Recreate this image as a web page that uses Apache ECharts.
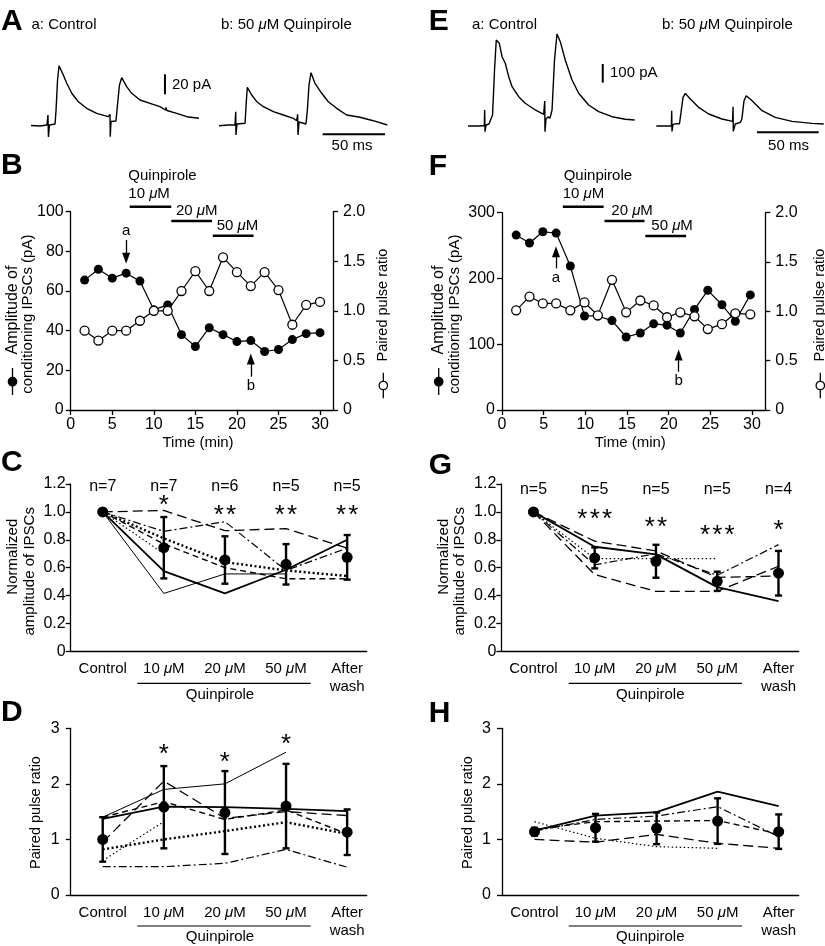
<!DOCTYPE html>
<html>
<head>
<meta charset="utf-8">
<script src="https://cdn.jsdelivr.net/npm/echarts@6/dist/echarts.min.js"></script>
<style>
html, body { margin: 0; padding: 0; background: #fff; }
#main { width: 825px; height: 946px; }
</style>
</head>
<body>
<div id="main"></div>
<script>
var FONT = '"Liberation Sans", Arial, Helvetica, sans-serif';

// A / E: example IPSC traces, [ms, pA]
var traceACtrl = [[0,0],[7.2,-0.5],[12.8,0.5],[13.6,10.5],[14.0,-11.5],[14.8,0.5],[19.3,1.5],[20.1,15.5],[21.3,45.5],[22.5,59.8],[24.1,55.5],[25.9,50.5],[28.7,42.2],[32.7,32.2],[38.0,23.8],[44.7,17.2],[52.7,12.2],[62.0,8.8],[63.0,8.5],[63.4,11.2],[63.6,-11.2],[64.2,4],[68.2,4.5],[69.4,20.5],[71.0,40.5],[72.8,47.8],[76.8,38.8],[80.8,32.2],[87.5,25.5],[95.5,22.2],[103.5,18.8],[107.9,15.5],[108.3,18],[109.1,15],[116.9,12.2],[125.0,8.8],[134.8,7.2]];
var traceAQuin = [[0,-0.2],[7.2,0.5],[12.8,0.5],[13.4,13.8],[13.6,-9.5],[14.4,1.5],[20.9,2.2],[21.7,20.5],[22.7,38.2],[26.2,30.5],[30.3,23.8],[35.6,18.8],[43.6,13.8],[51.6,10.5],[59.6,7.2],[62.3,4.8],[63.1,11.2],[63.4,-9.5],[64.2,3.5],[69.8,1.5],[70.9,15.5],[72.2,40.5],[73.8,52.8],[77.0,42.2],[82.4,32.2],[87.7,23.8],[94.4,17.2],[102.4,10.5],[113.1,8.2],[123.8,4.8],[135.1,0.5]];
var traceECtrl = [[0,0],[9.7,0],[13.2,2.7],[13.5,85.6],[13.8,-30.5],[14.6,5.3],[17.0,10.7],[18.6,8],[19.9,58.8],[21.5,299.5],[22.9,459.9],[25.4,442.2],[27.6,370.6],[30.2,335.3],[33.0,263.6],[35.7,210.2],[41.1,156.7],[46.4,121.4],[54.5,85.6],[61.3,62.6],[62.0,61.5],[62.2,133.7],[62.4,-30.5],[63.2,37.4],[64.8,48.1],[66.5,42.8],[68.1,85.6],[70.1,352.9],[72.1,492],[74.8,450.8],[78.8,352.9],[84.3,246],[89.7,174.9],[97.8,112.3],[105.9,76.5],[116.7,49.7],[127.5,35.8],[135.1,32.1]];
var traceEQuin = [[0,0],[7.1,0],[12.2,1.6],[12.5,81.8],[12.7,-28.9],[13.5,7],[16.0,12.3],[17.6,15],[18.8,12.3],[20.0,71.1],[21.6,151.3],[23.5,174.3],[27.6,144.4],[34.4,99.5],[42.5,64.2],[53.2,37.4],[61.8,24.6],[62.2,103.2],[62.4,-28.9],[64.0,10.7],[68.1,19.3],[69.4,39],[71.1,135.3],[72.9,162],[77.6,135.3],[85.7,81.8],[96.4,46],[110,24.6],[126.2,13.9],[135.7,10.7]];
var scaleA = [20, 50];   // pA, ms
var scaleE = [100, 50];

// B / F: time course
var timeB = [1.67,3.33,5,6.67,8.33,10,11.67,13.33,15,16.67,18.33,20,21.67,23.33,25,26.67,28.33,30];
var ampB = [65.5,71,66.5,69,65,50.5,53,38,32,41.5,38,34.5,35,29.5,30.5,35.5,38.5,39];
var pprB = [0.8,0.7,0.8,0.8,0.9,1.0,1.0,1.2,1.4,1.2,1.54,1.39,1.25,1.39,1.21,0.86,1.06,1.09];
var timeF = [1.7,3.3,4.9,6.5,8.2,9.9,11.5,13.2,14.9,16.6,18.2,19.8,21.4,23.1,24.7,26.4,28.0,29.8];
var ampF = [266,254,271,269,219,143,143,136,111,117,131,129,117,153,182,160,135,175];
var pprF = [1.01,1.15,1.08,1.08,1.01,1.09,0.96,1.32,0.99,1.11,1.06,0.94,0.99,0.95,0.82,0.87,0.98,0.97];
var drugB = [[7.1,12.1],[12.1,17.0],[17.1,22.0]];
var drugF = [[7.3,12.2],[12.3,17.1],[17.2,22.1]];
var drugNames = ['10 μM', '20 μM', '50 μM'];
var timeTicks = [0,5,10,15,20,25,30];

// C / G / D / H: summary
var categories = ['Control', '10 μM', '20 μM', '50 μM', 'After\nwash'];
var meanC = [1.0,0.743,0.655,0.624,0.674];
var errC  = [0,0.22,0.17,0.145,0.16];
var nC = ['n=7','n=7','n=6','n=5','n=5'];
var starsC = ['', '*', '**', '**', '**'];
var cellsC = [
  [1.0,1.01,0.865,0.88,0.74],
  [1.0,0.86,0.93,0.58,0.74],
  [1.0,0.575,0.415,0.585,0.80],
  [1.0,0.415,0.555,0.555,null],
  [1.0,0.81,0.64,0.58,0.54],
  [1.0,0.70,null,null,null],
  [1.0,0.77,0.60,0.52,0.52]
];
var meanG = [1.0,0.67,0.646,0.502,0.56];
var errG  = [0,0.075,0.118,0.069,0.16];
var nG = ['n=5','n=5','n=5','n=5','n=4'];
var starsG = ['', '***', '**', '***', '*'];
var cellsG = [
  [1.0,0.75,0.695,0.46,0.36],
  [1.0,0.79,0.72,0.53,0.54],
  [1.0,0.62,0.70,0.545,0.765],
  [1.0,0.665,0.665,0.665,null],
  [1.0,0.55,0.43,0.43,0.61]
];
var meanD = [1.0,1.58,1.484,1.6,1.13];
var errD  = [0.40,0.74,0.746,0.76,0.41];
var starsD = ['', '*', '*', '*', ''];
var cellsD = [
  [1.40,1.90,2.00,2.57,null],
  [1.37,1.59,1.58,1.55,1.51],
  [0.95,2.05,1.38,1.50,1.43],
  [1.40,1.68,1.36,1.53,1.10],
  [0.82,1.00,1.15,1.31,1.10],
  [0.62,1.32,null,null,null],
  [0.51,0.51,0.57,0.82,0.50]
];
var meanH = [1.14,1.21,1.2,1.33,1.14];
var errH  = [0.07,0.25,0.285,0.41,0.31];
var cellsH = [
  [1.16,1.43,1.49,1.86,1.60],
  [1.15,1.36,1.42,1.59,1.05],
  [1.18,1.32,1.33,1.34,1.10],
  [1.00,0.95,1.09,0.93,0.84],
  [1.32,1.02,0.87,0.84,null]
];

// line look of each cell trace
var LS = {
  thick:    { width: 1.8, type: 'solid' },
  thin:     { width: 1.0, type: 'solid' },
  longdash: { width: 1.3, type: [10, 5] },
  dash:     { width: 1.4, type: [6, 4] },
  dashdot:  { width: 1.2, type: [8, 3, 2, 3] },
  dotThick: { width: 2.4, type: [2, 2.5] },
  dotThin:  { width: 1.2, type: [1.5, 2.5] }
};
var styleC = ['longdash','dashdot','thick','thin','dotThick','dotThin','dash'];
var styleG = ['thick','longdash','dashdot','dotThin','longdash'];
var styleD = ['thin','thick','longdash','dash','dotThick','dotThin','dashdot'];
var styleH = ['thick','dashdot','dash','longdash','dotThin'];

var MU_RICH = { i: { fontStyle: 'italic', fontSize: 15, fontFamily: FONT, color: '#000' } };
function muText(s) { return s.replace(/μ/g, '{i|μ}'); }

function zip(a, b) { return a.map(function (v, i) { return [v, b[i]]; }); }

var axLine = { show: true, onZero: false, lineStyle: { color: '#000', width: 1.3 } };
var axTick = { show: true, length: 5, lineStyle: { color: '#000', width: 1.3 } };

function hiddenAxis(gi, min, max) {
  return { type: 'value', gridIndex: gi, min: min, max: max, show: false };
}
function valAxis(gi, min, max, interval, pos, fmt, margin) {
  return {
    type: 'value', gridIndex: gi, min: min, max: max, interval: interval, position: pos,
    axisLine: axLine, axisTick: axTick, splitLine: { show: false },
    axisLabel: { color: '#000', fontSize: 16, fontFamily: FONT, margin: margin, formatter: fmt }
  };
}
function timeAxis(gi, max) {
  return {
    type: 'value', gridIndex: gi, min: 0, max: max,
    axisLine: axLine, splitLine: { show: false },
    axisTick: { show: true, length: 5, lineStyle: { color: '#000', width: 1.3 }, customValues: timeTicks },
    axisLabel: { color: '#000', fontSize: 16, fontFamily: FONT, margin: 7, customValues: timeTicks }
  };
}
function catAxis(gi, min, max) {
  return {
    type: 'value', gridIndex: gi, min: min, max: max,
    axisLine: axLine, axisTick: { show: false }, splitLine: { show: false },
    axisLabel: {
      customValues: [0, 1, 2, 3, 4], color: '#000', fontSize: 15, fontFamily: FONT,
      lineHeight: 18, margin: 9, rich: MU_RICH,
      formatter: function (v) { return muText(categories[Math.round(v)]); }
    }
  };
}
var fmt1 = function (v) { return v === 0 ? '0' : v.toFixed(1); };
var fmt0 = function (v) { return String(v); };

var series = [];

// traces
function traceSeries(gi, data, offset) {
  series.push({
    type: 'line', xAxisIndex: gi, yAxisIndex: gi, silent: true, symbol: 'none',
    data: data.map(function (p) { return [p[0] + offset, p[1]]; }),
    lineStyle: { color: '#000', width: 1.4 }
  });
}
traceSeries(0, traceACtrl, 0);
traceSeries(0, traceAQuin, 150.9);
traceSeries(1, traceECtrl, 0);
traceSeries(1, traceEQuin, 152.6);
function scaleBars(gi, sc, tV, yV, tH, yH) {
  series.push({ type: 'line', xAxisIndex: gi, yAxisIndex: gi, silent: true, symbol: 'none',
    data: [[tV, yV], [tV, yV + sc[0]]], lineStyle: { color: '#000', width: 2 } });
  series.push({ type: 'line', xAxisIndex: gi, yAxisIndex: gi, silent: true, symbol: 'none',
    data: [[tH, yH], [tH + sc[1], yH]], lineStyle: { color: '#000', width: 2 } });
}
scaleBars(0, scaleA, 107.5, 31.2, 234.1, -8.8);
scaleBars(1, scaleE, 109.2, 231.6, 234.2, -33.7);

// time courses
function arrowLine(x, y0, y1, name) {
  return [{ coord: [x, y0], name: name }, { coord: [x, y1] }];
}
function timeCourse(xi, yl, yr, t, amp, ppr, arrows) {
  series.push({
    type: 'line', xAxisIndex: xi, yAxisIndex: yl, data: zip(t, amp), silent: true,
    symbol: 'circle', symbolSize: 9, z: 3,
    itemStyle: { color: '#000', opacity: 1 }, lineStyle: { color: '#000', width: 1.2 },
    markLine: {
      silent: true, symbol: ['none', 'triangle'], symbolSize: [8, 11],
      lineStyle: { color: '#000', width: 1.3, type: 'solid' },
      label: { show: true, position: 'start', formatter: '{b}', color: '#000', fontSize: 15, fontFamily: FONT, distance: 2 },
      data: arrows
    }
  });
  series.push({
    type: 'line', xAxisIndex: xi, yAxisIndex: yr, data: zip(t, ppr), silent: true,
    symbol: 'circle', symbolSize: 9, z: 4,
    itemStyle: { color: '#fff', borderColor: '#000', borderWidth: 1.3, opacity: 1 },
    lineStyle: { color: '#000', width: 1.2 }
  });
}
timeCourse(2, 2, 3, timeB, ampB, pprB, [arrowLine(6.67, 85.7, 76.5, 'a'), arrowLine(21.67, 16.8, 25.7, 'b')]);
timeCourse(3, 4, 5, timeF, ampF, pprF, [arrowLine(6.48, 215.4, 240.7, 'a'), arrowLine(21.2, 58.2, 83.6, 'b')]);

// summaries
function errRender(params, api) {
  var x = api.value(0), m = api.value(1), e = api.value(2);
  if (!e) return;
  var hi = api.coord([x, m + e]), lo = api.coord([x, m - e]);
  var w = 3.5;
  var st = { stroke: '#000', lineWidth: 2.4 };
  return { type: 'group', children: [
    { type: 'line', shape: { x1: hi[0], y1: hi[1], x2: lo[0], y2: lo[1] }, style: st },
    { type: 'line', shape: { x1: hi[0] - w, y1: hi[1], x2: hi[0] + w, y2: hi[1] }, style: st },
    { type: 'line', shape: { x1: lo[0] - w, y1: lo[1], x2: lo[0] + w, y2: lo[1] }, style: st }
  ] };
}
function textMarks(xi, yi, texts, ys, size, offY) {
  var data = [];
  texts.forEach(function (s, i) {
    if (s && ys[i] != null) data.push({ value: [i, ys[i]], name: s.split('').join(s.length > 1 && s[0] === '*' ? '\u200A' : '') });
  });
  series.push({
    type: 'scatter', xAxisIndex: xi, yAxisIndex: yi, silent: true, symbolSize: 0, z: 6,
    itemStyle: { color: '#000', opacity: 1 }, data: data,
    label: { show: true, position: 'inside', formatter: '{b}', color: '#000', opacity: 1, fontSize: size, fontFamily: FONT, offset: [0, offY] }
  });
}
function summary(xi, yi, cells, styles, mean, err) {
  cells.forEach(function (c, k) {
    var d = [];
    c.forEach(function (v, i) { if (v != null) d.push([i, v]); });
    var s = LS[styles[k]];
    series.push({ type: 'line', xAxisIndex: xi, yAxisIndex: yi, silent: true, symbol: 'none', z: 2,
      data: d, lineStyle: { color: '#000', width: s.width, type: s.type } });
  });
  series.push({ type: 'custom', xAxisIndex: xi, yAxisIndex: yi, silent: true, z: 3, clip: false,
    renderItem: errRender, data: mean.map(function (m, i) { return [i, m, err[i]]; }) });
  series.push({ type: 'scatter', xAxisIndex: xi, yAxisIndex: yi, silent: true, z: 4,
    symbolSize: 11, itemStyle: { color: '#000', opacity: 1 }, data: zip([0,1,2,3,4], mean) });
}
summary(4, 6, cellsC, styleC, meanC, errC);
summary(5, 7, cellsG, styleG, meanG, errG);
summary(6, 8, cellsD, styleD, meanD, errD);
summary(7, 9, cellsH, styleH, meanH, errH);
textMarks(4, 6, nC, [1.18,1.18,1.18,1.18,1.18], 16, 0);
textMarks(5, 7, nG, [1.157,1.157,1.157,1.157,1.157], 16, 0);
textMarks(4, 6, starsC, [null,1.085,1.013,1.013,1.013], 26, 6);
textMarks(5, 7, starsG, [null,0.986,0.932,0.874,0.906], 26, 6);
textMarks(6, 8, starsD, [null,2.63,2.48,2.81,null], 26, 6);

var option = {
  animation: false,
  backgroundColor: '#fff',
  textStyle: { fontFamily: FONT },
  grid: [
    { left: 31, top: 55, width: 356, height: 90 },
    { left: 468, top: 25, width: 356, height: 120 },
    { left: 70.7, top: 211.7, width: 262.3, height: 198.3 },
    { left: 502, top: 212.7, width: 263.3, height: 197.3 },
    { left: 70.7, top: 484, width: 296, height: 167.3 },
    { left: 501.3, top: 484, width: 297.4, height: 167.3 },
    { left: 70.7, top: 728.3, width: 296, height: 166.7 },
    { left: 502, top: 728.3, width: 296.7, height: 166.7 }
  ],
  xAxis: [
    hiddenAxis(0, 0, 285.7),
    hiddenAxis(1, 0, 288.5),
    timeAxis(2, 31.56),
    timeAxis(3, 31.6),
    catAxis(4, -0.524, 4.32),
    catAxis(5, -0.525, 4.33),
    catAxis(6, -0.524, 4.32),
    catAxis(7, -0.532, 4.328)
  ],
  yAxis: [
    hiddenAxis(0, -19.5, 70.5),
    hiddenAxis(1, -101.6, 540),
    valAxis(2, 0, 100, 20, 'left', fmt0, 7),
    valAxis(2, 0, 2, 0.5, 'right', fmt1, 10),
    valAxis(3, 0, 300, 100, 'left', fmt0, 7),
    valAxis(3, 0, 2, 0.5, 'right', fmt1, 10),
    valAxis(4, 0, 1.2, 0.2, 'left', fmt1, 5),
    valAxis(5, 0, 1.2, 0.2, 'left', fmt1, 5),
    valAxis(6, 0, 3, 1, 'left', fmt0, 11),
    valAxis(7, 0, 3, 1, 'left', fmt0, 11)
  ],
  series: series
};

var chart = echarts.init(document.getElementById('main'));
chart.setOption(option);

// annotations: text, labels, drug bars
function T(x, y, s, o) {
  o = o || {};
  var size = o.size || 15;
  return { type: 'text', x: x, y: y, rotation: o.rot || 0, silent: true, z: 10,
    style: { text: muText(s), fontSize: size, fontFamily: FONT, fontWeight: o.bold ? 'bold' : 'normal',
      fill: '#000', align: o.align || 'left', verticalAlign: 'middle',
      rich: { i: { fontStyle: 'italic', fontSize: size, fontFamily: FONT, fill: '#000' } } } };
}
function L(x1, y1, x2, y2, w) {
  return { type: 'line', silent: true, z: 10, shape: { x1: x1, y1: y1, x2: x2, y2: y2 }, style: { stroke: '#000', lineWidth: w } };
}
function dot(x, y, filled) {
  return { type: 'circle', silent: true, z: 11, shape: { cx: x, cy: y, r: 4.2 },
    style: { fill: filled ? '#000' : '#fff', stroke: '#000', lineWidth: 1.3 } };
}
var R = Math.PI / 2;
var g = [];
// panel letters
[['A',1,22],['E',428.7,22],['B',1,165.3],['F',428.7,166.7],['C',1,463],['G',428.7,466],['D',1,712.5],['H',428.7,713.7]].forEach(function (p) {
  g.push(T(p[1], p[2], p[0], { size: 30, bold: true }));
});
// trace labels
g.push(T(31.5, 25, 'a: Control'), T(221, 25, 'b: 50 μM Quinpirole'), T(172, 85, '20 pA'), T(352, 146, '50 ms', { align: 'center' }));
g.push(T(472, 25, 'a: Control'), T(662, 25, 'b: 50 μM Quinpirole'), T(610, 73, '100 pA'), T(788.5, 146, '50 ms', { align: 'center' }));
// time course axes titles
function ampTitle(x1, x2, xr) {
  g.push(T(x1, 310, 'Amplitude of', { rot: R, align: 'center', size: 16 }));
  g.push(L(x1, 368, x1, 395, 1.3), dot(x1, 381.7, true));
  g.push(T(x2, 314.2, 'conditioning IPSCs (pA)', { rot: R, align: 'center' }));
  g.push(T(xr, 305, 'Paired pulse ratio', { rot: R, align: 'center', size: 14.5 }));
  g.push(L(xr, 372.7, xr, 398.3, 1.3), dot(xr, 385.5, false));
}
ampTitle(12.5, 28.3, 383.3);
ampTitle(438.7, 455.3, 820.3);
g.push(T(198, 443, 'Time (min)', { align: 'center' }), T(630.3, 443, 'Time (min)', { align: 'center' }));
// drug application bars
function drugBars(gi, periods, barY, txt) {
  periods.forEach(function (p, k) {
    var a = chart.convertToPixel({ gridIndex: gi }, [p[0], 0]);
    var b = chart.convertToPixel({ gridIndex: gi }, [p[1], 0]);
    g.push(L(a[0], barY[k], b[0], barY[k], 2.5));
    g.push(T(txt[k][0], txt[k][1], drugNames[k]));
  });
}
g.push(T(128.3, 175.5, 'Quinpirole'), T(563.7, 175.5, 'Quinpirole'));
drugBars(2, drugB, [206.7, 221, 235.7], [[128.3, 193.5], [176, 210.8], [216.7, 225.8]]);
drugBars(3, drugF, [206.7, 221, 236], [[562.7, 193.5], [611.3, 210.8], [651.3, 225.8]]);
// summary axis titles
g.push(T(13.3, 556.7, 'Normalized', { rot: R, align: 'center' }), T(30, 571.3, 'amplitude of IPSCs', { rot: R, align: 'center' }));
g.push(T(443.7, 556.7, 'Normalized', { rot: R, align: 'center' }), T(460.3, 571.3, 'amplitude of IPSCs', { rot: R, align: 'center' }));
g.push(T(35.5, 812.5, 'Paired pulse ratio', { rot: R, align: 'center', size: 14.5 }), T(467.5, 812.5, 'Paired pulse ratio', { rot: R, align: 'center', size: 14.5 }));
// quinpirole underline under categories
[[137.3, 310.7, 683.3, 220, 694.5], [568.7, 742, 683.3, 650.3, 695], [137.3, 310.7, 926, 220, 937.3], [568.7, 742, 926, 650.3, 937.3]].forEach(function (q) {
  g.push(L(q[0], q[2], q[1], q[2], 1.2), T(q[3], q[4], 'Quinpirole', { align: 'center' }));
});

chart.setOption({ graphic: g });
</script>
</body>
</html>
